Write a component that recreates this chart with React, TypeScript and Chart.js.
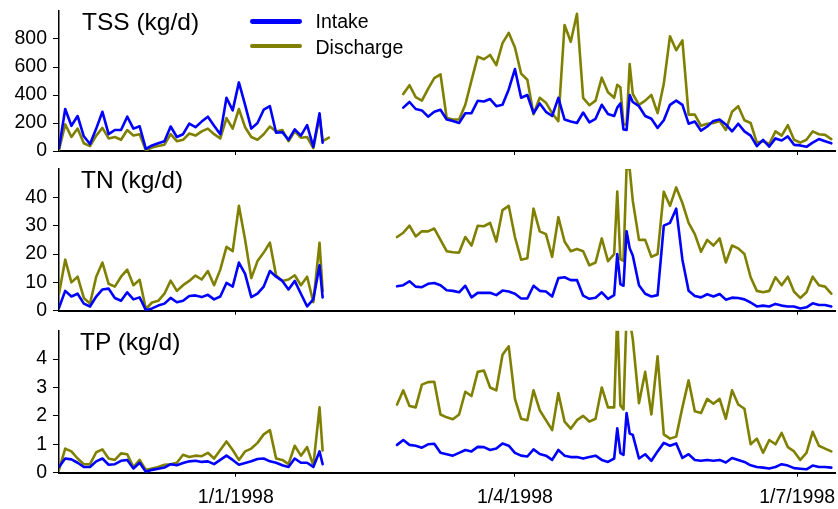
import { useEffect, useRef } from 'react'
import Chart from 'chart.js/auto'

// x = days since 1/1/1998. Two sampling periods with a gap between them.
const LEFT_DAYS = [-57, -55, -53, -51, -49, -47, -45, -43, -41, -39, -37, -35, -33, -31, -29, -27, -25, -23, -21, -19, -17, -15, -13, -11, -9, -7, -5, -3, -1, 1, 3, 5, 7, 9, 11, 13, 15, 17, 19, 21, 23, 25, 27, 28, 30]
const RIGHT_DAYS = [52, 54, 56, 58, 60, 62, 64, 66, 68, 70, 72, 74, 76, 78, 80, 82, 84, 86, 88, 90, 92, 94, 96, 98, 100, 102, 104, 106, 108, 110, 112, 114, 116, 118, 120, 122, 123, 124, 125, 126, 127, 128, 130, 132, 134, 136, 138, 140, 142, 144, 146, 148, 150, 152, 154, 156, 158, 160, 162, 164, 166, 168, 170, 172, 174, 176, 178, 180, 182, 184, 186, 188, 190, 192]
const GAP_DAY = 41

const X_TICK_DAYS = [0, 90, 181]
const X_TICK_LABELS = ['1/1/1998', '1/4/1998', '1/7/1998']

// TSS (kg/d)
const TSS_IN_L = [20, 300, 180, 250, 105, 50, 160, 280, 120, 150, 150, 245, 160, 177, 15, 40, 55, 70, 175, 100, 120, 195, 170, 210, 245, 180, 120, 380, 290, 490, 330, 160, 200, 295, 320, 130, 135, 80, 155, 110, 185, 30, 270, 60, null]
const TSS_OUT_L = [10, 190, 100, 160, 55, 35, 110, 165, 90, 100, 80, 150, 110, 120, 5, 25, 35, 45, 120, 70, 80, 125, 110, 140, 160, 120, 90, 235, 160, 300, 170, 100, 80, 120, 175, 140, 150, 70, 140, 95, 100, 20, 245, 70, 95]
const TSS_IN_R = [null, 310, 350, 300, 290, 245, 280, 295, 225, 215, 200, 270, 270, 359, 354, 371, 320, 330, 440, 585, 380, 400, 270, 340, 280, 250, 380, 225, 210, 200, 275, 205, 230, 330, 265, 250, 310, 340, 153, 150, 400, 350, 320, 250, 230, 165, 220, 330, 360, 330, 195, 210, 145, 175, 215, 225, 190, 140, 195, 140, 110, 35, 80, 32, 90, 75, 104, 44, 40, 30, 60, 85, 70, 55]
const TSS_OUT_R = [null, 407, 470, 385, 360, 444, 520, 548, 235, 225, 225, 330, 504, 674, 655, 686, 613, 771, 844, 739, 553, 509, 262, 380, 345, 270, 213, 900, 780, 980, 380, 327, 360, 524, 419, 380, 473, 456, 189, 189, 621, 407, 330, 360, 400, 270, 480, 820, 720, 790, 260, 260, 180, 195, 200, 215, 150, 280, 320, 220, 200, 60, 70, 50, 140, 110, 184, 80, 60, 80, 140, 120, 115, 85]

// TN (kg/d)
const TN_IN_L = [1, 7, 5, 6, 2.5, 1.5, 5, 7.5, 7.8, 4.5, 3.5, 6.5, 4, 4.7, 0.2, 0.8, 1.8, 2.5, 4.5, 3, 3.5, 5.2, 5.4, 4.8, 5.6, 4, 5, 9.8, 8.5, 17, 13, 4.8, 6, 8.5, 14, 12, 10.5, 7.5, 10.5, 6, 1.5, 4, 16, 4.7, null]
const TN_OUT_L = [6, 18, 10, 12, 4.5, 2.5, 12, 17, 9.5, 8.5, 12, 14.5, 9, 10.9, 0.6, 2.9, 3.5, 6, 10.6, 7, 9, 10.5, 12.4, 11, 14, 9, 14.5, 22.5, 21, 37, 25, 11.5, 17.5, 20.5, 24, 12.4, 10.5, 11, 12.5, 9, 12, 3, 24, 7, null]
const TN_IN_R = [8.6, 9, 10.4, 8.5, 8.3, 9.5, 9.8, 9, 7.2, 7, 6.5, 8.8, 4.7, 6.3, 6.3, 6.3, 5.5, 7.1, 6.8, 6, 4.3, 4.3, 8.8, 7, 6.8, 5, 11.5, 11.8, 10.8, 10.8, 5.3, 4.2, 4.6, 6.5, 4.2, 5.5, 20, 9.4, 8.8, 28, 22, 19.5, 9, 6, 5, 5.5, 30, 31, 36, 18, 7, 5.2, 4.7, 5.8, 5, 5.9, 3.9, 4.6, 4.5, 4, 2.9, 1.5, 1.8, 1.5, 2.4, 1.8, 1.5, 1.5, 0.8, 1.2, 2.6, 2, 2, 1.5]
const TN_OUT_R = [26, 27.5, 30, 26.2, 28, 28, 29, 25, 21, 20.6, 20.5, 26, 23, 30, 29.8, 31, 24.4, 35.5, 37, 26, 18, 18.5, 36, 28, 27, 19, 33, 24.4, 21, 21.8, 21, 16, 17, 25.5, 17.5, 20, 42, 18.2, 17.6, 50.5, 50, 38.8, 25, 25, 19, 20, 42, 37, 43.5, 38, 31, 27, 20.8, 25, 23, 25.5, 17, 23, 22, 20, 11.8, 7, 6.5, 7, 11.8, 9, 12, 6.7, 4.5, 6.5, 12, 9, 8.5, 6]

// TP (kg/d)
const TP_IN_L = [0.2, 0.5, 0.47, 0.35, 0.2, 0.2, 0.4, 0.5, 0.28, 0.3, 0.42, 0.45, 0.15, 0.35, 0.03, 0.1, 0.14, 0.18, 0.3, 0.26, 0.34, 0.4, 0.42, 0.38, 0.4, 0.3, 0.45, 0.6, 0.45, 0.28, 0.34, 0.4, 0.48, 0.5, 0.4, 0.35, 0.26, 0.2, 0.5, 0.35, 0.35, 0.2, 0.75, 0.3, null]
const TP_OUT_L = [0.1, 0.85, 0.75, 0.5, 0.3, 0.3, 0.72, 0.82, 0.5, 0.45, 0.68, 0.65, 0.2, 0.45, 0.1, 0.15, 0.2, 0.28, 0.3, 0.35, 0.63, 0.55, 0.6, 0.58, 0.7, 0.5, 0.8, 1.1, 0.8, 0.45, 0.75, 0.85, 1.05, 1.35, 1.5, 0.5, 0.45, 0.3, 0.95, 0.6, 0.9, 0.25, 2.3, 0.78, null]
const TP_IN_R = [0.98, 1.15, 0.98, 0.95, 0.88, 1.0, 1.02, 0.7, 0.65, 0.6, 0.7, 0.8, 0.75, 0.91, 0.9, 0.8, 0.85, 1.03, 0.95, 0.7, 0.6, 0.57, 0.82, 0.66, 0.6, 0.45, 0.8, 0.6, 0.55, 0.55, 0.5, 0.55, 0.6, 0.45, 0.38, 0.5, 1.56, 0.69, 0.63, 2.1, 1.38, 1.33, 0.5, 0.65, 0.42, 0.75, 1.05, 0.95, 1.03, 0.52, 0.65, 0.45, 0.42, 0.45, 0.42, 0.45, 0.36, 0.52, 0.45, 0.38, 0.26, 0.2, 0.18, 0.15, 0.2, 0.3, 0.25, 0.16, 0.14, 0.12, 0.25, 0.2, 0.2, 0.18]
const TP_OUT_R = [2.4, 2.9, 2.35, 2.3, 3.1, 3.19, 3.2, 2.05, 1.95, 1.88, 2.05, 2.85, 2.7, 3.55, 3.6, 3.0, 2.9, 4.15, 4.45, 2.6, 1.9, 1.85, 2.9, 2.2, 1.85, 1.5, 2.8, 1.8, 1.55, 1.85, 2.0, 1.8, 1.9, 3.0, 2.3, 2.3, 5.6, 2.37, 2.23, 5.6, 5.4, 4.7, 2.45, 3.55, 2.05, 4.1, 1.35, 1.2, 1.27, 2.3, 3.25, 2.16, 2.1, 2.6, 2.43, 2.6, 1.9, 2.9, 2.4, 2.25, 1.0, 1.2, 0.7, 1.15, 1.0, 1.4, 0.9, 0.75, 0.45, 0.7, 1.44, 0.95, 0.85, 0.75]

const TSS_TICKS = [0, 200, 400, 600, 800]
const TN_TICKS = [0, 10, 20, 30, 40]
const TP_TICKS = [0, 1, 2, 3, 4]

const INTAKE = '#0000FF'
const DISCHARGE = '#808000'
const FONT = '"Liberation Sans", Arial, Helvetica, sans-serif'

const X_MIN = -57
const X_MAX = 193.2

type Val = number | null

const toPoints = (left: Val[], right: Val[]) => [
  ...LEFT_DAYS.map((x, i) => ({ x, y: left[i] })),
  { x: GAP_DAY, y: null },
  ...RIGHT_DAYS.map((x, i) => ({ x, y: right[i] })),
]

interface PanelProps {
  top: number; height: number
  areaTop: number; areaBottom: number     // chart area in page px
  yMax: number; yTicks: number[]
  intake: [Val[], Val[]]; discharge: [Val[], Val[]]
  showXLabels: boolean
}

function Panel({ top, height, areaTop, areaBottom, yMax, yTicks, intake, discharge, showXLabels }: PanelProps) {
  const canvasRef = useRef<HTMLCanvasElement>(null)

  useEffect(() => {
    if (!canvasRef.current) return
    const lineStyle = { pointRadius: 0, borderWidth: 2.6, tension: 0, spanGaps: false, borderJoinStyle: 'round', borderCapStyle: 'round', fill: false }
    const chart = new Chart(canvasRef.current, {
      type: 'line',
      data: {
        datasets: [
          { label: 'Intake', data: toPoints(intake[0], intake[1]) as any, borderColor: INTAKE, ...lineStyle },
          { label: 'Discharge', data: toPoints(discharge[0], discharge[1]) as any, borderColor: DISCHARGE, ...lineStyle },
        ] as any,
      },
      options: {
        animation: false, responsive: true, maintainAspectRatio: false,
        events: [],
        layout: { padding: { top: areaTop - top, right: 3, left: 0, bottom: 0 } },
        plugins: { legend: { display: false }, tooltip: { enabled: false } },
        scales: {
          x: {
            type: 'linear', min: X_MIN, max: X_MAX,
            afterBuildTicks: (s: any) => { s.ticks = X_TICK_DAYS.map(v => ({ value: v })) },
            // fixed axis box so the plot area lands where the reference has it
            afterFit: (s: any) => { s.height = top + height - areaBottom; s.paddingLeft = 0; s.paddingRight = 0 },
            grid: { display: true, drawOnChartArea: false, drawTicks: true, tickLength: 4, color: '#000', lineWidth: 1 },
            border: { display: true, color: '#000', width: 2 },
            ticks: {
              display: showXLabels, padding: 9, color: '#000', maxRotation: 0, autoSkip: false,
              font: { size: 19.5, family: FONT },
              callback: (v: any) => X_TICK_LABELS[X_TICK_DAYS.indexOf(v)] ?? '',
            },
          },
          y: {
            min: 0, max: yMax,
            afterBuildTicks: (s: any) => { s.ticks = yTicks.map(v => ({ value: v })) },
            afterFit: (s: any) => { s.width = 59; s.paddingTop = 0; s.paddingBottom = 0 },
            grid: { display: true, drawOnChartArea: false, drawTicks: true, tickLength: 6, color: '#000', lineWidth: 1 },
            border: { display: true, color: '#000', width: 1.5 },
            ticks: { padding: 6, color: '#000', font: { size: 19.5, family: FONT } },
          },
        },
      } as any,
    })
    return () => { chart.destroy() }
  }, [])

  return (
    <div style={{ position: 'absolute', left: 0, top, width: 838, height }}>
      <canvas ref={canvasRef} />
    </div>
  )
}

const textStyle = (left: number, top: number, size: number): React.CSSProperties => ({
  position: 'absolute', left, top, fontFamily: FONT, fontSize: size, lineHeight: 1, color: '#000', whiteSpace: 'nowrap',
})

export default function App() {
  return (
    <div style={{ position: 'absolute', left: 0, top: 0, width: 838, height: 509, background: '#fff', overflow: 'hidden' }}>
      <Panel top={0} height={165} areaTop={11} areaBottom={151} yMax={1000} yTicks={TSS_TICKS}
        intake={[TSS_IN_L, TSS_IN_R]} discharge={[TSS_OUT_L, TSS_OUT_R]} showXLabels={false} />
      <Panel top={160} height={165} areaTop={169} areaBottom={310.7} yMax={50} yTicks={TN_TICKS}
        intake={[TN_IN_L, TN_IN_R]} discharge={[TN_OUT_L, TN_OUT_R]} showXLabels={false} />
      <Panel top={320} height={189} areaTop={330.7} areaBottom={472.7} yMax={5} yTicks={TP_TICKS}
        intake={[TP_IN_L, TP_IN_R]} discharge={[TP_OUT_L, TP_OUT_R]} showXLabels={true} />

      {/* panel titles */}
      <span style={textStyle(82, 9.8, 24.5)}>TSS (kg/d)</span>
      <span style={textStyle(81, 167.8, 24.5)}>TN (kg/d)</span>
      <span style={textStyle(80, 330.2, 24.5)}>TP (kg/d)</span>

      {/* legend */}
      <div style={{ position: 'absolute', left: 250, top: 19.4, width: 52, height: 4.7, borderRadius: 2.4, background: INTAKE }} />
      <span style={textStyle(315.5, 11.5, 19.5)}>Intake</span>
      <div style={{ position: 'absolute', left: 250, top: 43.6, width: 52, height: 4.7, borderRadius: 2.4, background: DISCHARGE }} />
      <span style={textStyle(315.5, 38.2, 19.5)}>Discharge</span>
    </div>
  )
}
